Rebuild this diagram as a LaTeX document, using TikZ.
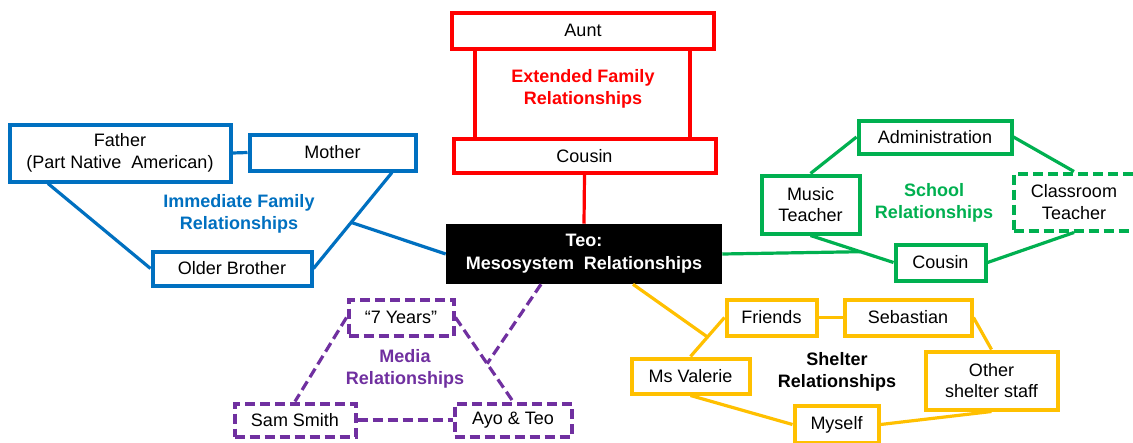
\documentclass[tikz,border=0pt]{standalone}
\usepackage{fontspec}
\setmainfont{Liberation Sans}
\usetikzlibrary{calc}
\definecolor{cred}{HTML}{FF0000}
\definecolor{cblue}{HTML}{0070C0}
\definecolor{cgreen}{HTML}{00B050}
\definecolor{cpurple}{HTML}{7030A0}
\definecolor{cyellow}{HTML}{FFC000}
\begin{document}
\begin{tikzpicture}[x=0.75pt,y=-0.75pt,
  sz/.style 2 args={minimum width=#1*0.75pt,minimum height=#2*0.75pt},
  base/.style={draw, line width=3pt, inner sep=0pt, align=center, fill=white,
    font=\fontsize{13.5}{16}\selectfont, text=black},
  lab/.style={font=\bfseries\fontsize{13.5}{17}\selectfont, align=center, inner sep=0pt},
  ln/.style={line width=2.4pt},
  dsh/.style={dash pattern=on 7.5pt off 3.75pt},
  rbox/.style={base, draw=cred},
  bbox/.style={base, draw=cblue},
  gbox/.style={base, draw=cgreen},
  pbox/.style={base, draw=cpurple, dsh},
  ybox/.style={base, draw=cyellow},
]
\useasboundingbox (0,0) rectangle (1133,443);
\clip (0,0) rectangle (1133,443);
\fill[white] (0,0) rectangle (1133,443);

% Center
\node[fill=black, text=white, lab, sz={276}{60}] (teo) at (584,254) {Teo:\\Mesosystem~~Relationships};

% Red: extended family
\node[rbox, sz={262}{36}] (aunt) at (583,30.5) {Aunt};
\node[rbox, sz={262}{34}] (cousinR) at (584.5,156) {Cousin};
\node[lab, text=cred] (extlab) at (583,89) {Extended Family\\Relationships};
\coordinate (r1) at ($(aunt.south)+(-108,0)$);
\coordinate (r2) at ($(aunt.south)+(107,0)$);
\draw[ln, cred] (r1) -- (r1 |- cousinR.north);
\draw[ln, cred] (r2) -- (r2 |- cousinR.north);
\draw[ln, cred] (cousinR.south) -- (teo.north);

% Blue: immediate family
\node[bbox, sz={221}{57}] (father) at (120,153) {Father\\(Part Native~~American)};
\node[bbox, sz={166}{36}] (mother) at (332.5,152.5) {Mother};
\node[bbox, sz={159}{34}] (brother) at (232,268.5) {Older Brother};
\node[lab, text=cblue] (imlab) at (239,214) {Immediate Family\\Relationships};
\coordinate (fb) at ($(father.south west)!0.18!(father.south east)$);
\coordinate (mb) at ($(mother.south west)!0.85!(mother.south east)$);
\draw[ln, cblue] (father.east) -- (mother.west);
\draw[ln, cblue] (fb) -- (brother.west);
\draw[ln, cblue] (mb) -- (brother.east);
\coordinate (bj) at ($(mb)!0.52!(brother.east)$);
\draw[ln, cblue] (bj) -- (teo.west);

% Green: school
\node[gbox, sz={153}{33}] (admin) at (935,137) {Administration};
\node[gbox, sz={98}{58}] (music) at (810.5,204.5) {Music\\Teacher};
\node[gbox, dsh, sz={121}{57}] (classroom) at (1074,202) {Classroom\\Teacher};
\node[gbox, sz={90}{36}] (cousinG) at (940.5,262.5) {Cousin};
\node[lab, text=cgreen] (schlab) at (934,203) {School\\Relationships};
\draw[ln, cgreen] (music.north) -- (admin.west);
\draw[ln, cgreen] (admin.east) -- (classroom.north);
\draw[ln, cgreen] (music.south) -- (cousinG.west);
\draw[ln, cgreen] (cousinG.east) -- (classroom.south);
\coordinate (gj) at ($(music.south)!0.6!(cousinG.west)$);
\draw[ln, cgreen] (teo.east) -- (gj);

% Purple: media
\node[pbox, sz={105}{36}] (years) at (401,317.5) {``7 Years''};
\node[pbox, sz={121}{33}] (sam) at (295,420) {Sam Smith};
\node[pbox, sz={117}{33}] (ayo) at (513,420) {Ayo \& Teo};
\node[lab, text=cpurple] (medlab) at (405,369) {Media\\Relationships};
\draw[ln, cpurple, dsh] (years.west) -- (sam.north);
\draw[ln, cpurple, dsh] (years.east) -- (ayo.north);
\draw[ln, cpurple, dsh] (sam.east) -- (ayo.west);
\coordinate (pj) at ($(years.east)!0.55!(ayo.north)$);
\coordinate (ps) at ($(teo.south)+(-43,0)$);
\draw[ln, cpurple, dsh] (ps) -- (pj);

% Yellow: shelter
\node[ybox, sz={90}{36}] (friends) at (771.5,317.5) {Friends};
\node[ybox, sz={127}{36}] (sebastian) at (908,317.5) {Sebastian};
\node[ybox, sz={118}{35}] (valerie) at (690.5,376) {Ms Valerie};
\node[ybox, sz={132}{58}] (other) at (991.5,380.5) {Other\\shelter staff};
\node[ybox, sz={84}{37}] (myself) at (836.5,424.5) {Myself};
\node[lab, text=black] (shlab) at (837,372) {Shelter\\Relationships};
\draw[ln, cyellow] (friends.east) -- (sebastian.west);
\draw[ln, cyellow] (valerie.north) -- (friends.west);
\draw[ln, cyellow] (sebastian.east) -- (other.north);
\draw[ln, cyellow] (valerie.south) -- (myself.west);
\draw[ln, cyellow] (myself.east) -- (other.south);
\coordinate (yj) at ($(valerie.north)!0.5!(friends.west)$);
\coordinate (ys) at ($(teo.south)+(49,0)$);
\draw[ln, cyellow] (ys) -- (yj);
\end{tikzpicture}
\end{document}
